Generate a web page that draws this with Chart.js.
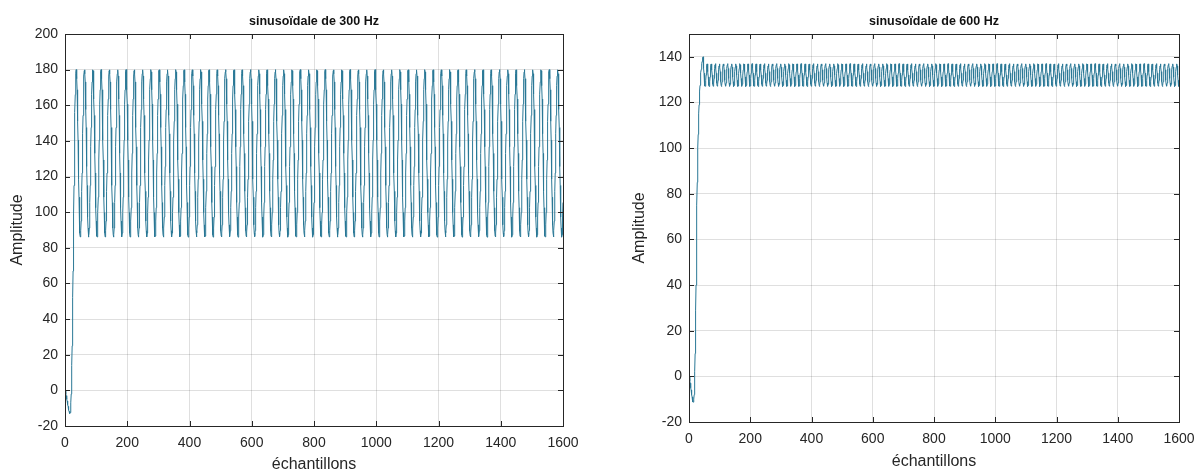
<!DOCTYPE html>
<html>
<head>
<meta charset="utf-8">
<script src="https://cdn.jsdelivr.net/npm/chart.js@4.4.1/dist/chart.umd.min.js"></script>
<style>
  body { margin: 0; background: #fff; }
  #gauche { position: absolute; left: 0; top: 0; }
  #droite { position: absolute; left: 600px; top: 0; }
</style>
</head>
<body>
<canvas id="gauche" width="600" height="474"></canvas>
<canvas id="droite" width="604" height="474"></canvas>
<script>
// Number of samples in each signal
const nbEchantillons = 1600;

// 300 Hz: first samples, before the output settles
const debut300 = [0, -1, -2, -3, -4, -5, -6, -7, -8, -9,
    -10, -11, -11.8, -12.4, -12.8, -13, -12.5, -10.5, -7, -2,
    5, 14, 25, 38, 52, 67, 83, 99, 115, 130,
    144, 156, 166, 173, 178];
// 300 Hz: settled part, 3 periods = 80 samples, repeated until the end
const cycle300 = [180.0, 178.7, 174.9, 168.7, 160.6, 151.0, 140.4, 129.3, 118.5, 108.4,
    99.8, 92.9, 88.3, 86.1, 86.6, 89.6, 95.0, 102.5, 111.7, 122.0,
    133.0, 144.0, 154.3, 163.5, 171.0, 176.4, 179.4, 179.9, 177.7, 173.1,
    166.2, 157.6, 147.5, 136.7, 125.6, 115.0, 105.4, 97.3, 91.1, 87.3,
    86.0, 87.3, 91.1, 97.3, 105.4, 115.0, 125.6, 136.7, 147.5, 157.6,
    166.2, 173.1, 177.7, 179.9, 179.4, 176.4, 171.0, 163.5, 154.3, 144.0,
    133.0, 122.0, 111.7, 102.5, 95.0, 89.6, 86.6, 86.1, 88.3, 92.9,
    99.8, 108.4, 118.5, 129.3, 140.4, 151.0, 160.6, 168.7, 174.9, 178.7];

// 600 Hz: first samples
const debut600 = [0, -1, -2, -3, -4, -5, -6, -7, -8, -9,
    -10, -10.7, -11.2, -11.3, -11, -10, -8, -4, 2, 10,
    19, 29, 40, 52, 64, 75, 85, 93, 100, 106,
    111, 115, 119, 122, 125, 127.5, 129.5, 131.5, 133, 134.5,
    136, 137, 138, 139, 139.7, 140, 139];
// 600 Hz: settled part, 3 periods = 40 samples
const cycle600 = [137.0, 136.5, 134.9, 132.8, 130.5, 128.5, 127.2, 127.1, 128.0, 129.7,
    132.0, 134.3, 136.0, 136.9, 136.8, 135.5, 133.5, 131.2, 129.1, 127.5,
    127.0, 127.5, 129.1, 131.2, 133.5, 135.5, 136.8, 136.9, 136.0, 134.3,
    132.0, 129.7, 128.0, 127.1, 127.2, 128.5, 130.5, 132.8, 134.9, 136.5];
const decalage600 = 2; // the settled 600 Hz part starts on the way down

// Tick labels
const ticksX = [0, 200, 400, 600, 800, 1000, 1200, 1400, 1600];
const ticksY300 = [-20, 0, 20, 40, 60, 80, 100, 120, 140, 160, 180, 200];
const ticksY600 = [-20, 0, 20, 40, 60, 80, 100, 120, 140];

const echantillons = Array.from({ length: nbEchantillons }, (_, i) => i + 1);

// Start samples followed by the repeated settled cycle
function construireSignal(debut, cycle, decalage) {
    const out = debut.slice();
    let k = decalage;
    while (out.length < nbEchantillons) {
        out.push(cycle[k % cycle.length]);
        k++;
    }
    return out;
}

const signal300 = construireSignal(debut300, cycle300, 0);
const signal600 = construireSignal(debut600, cycle600, decalage600);

const police = 'Liberation Sans, Arial, Helvetica, sans-serif';
const gris = '#262626';

// Box round the plot area with inward tick marks, like MATLAB
const cadreMatlab = {
    id: 'cadreMatlab',
    afterDatasetsDraw(chart) {
        const { ctx, chartArea: a, scales: { x, y } } = chart;
        ctx.save();
        ctx.strokeStyle = gris;
        ctx.lineWidth = 1;
        ctx.beginPath();
        x.ticks.forEach(t => {
            const px = Math.round(x.getPixelForValue(t.value)) + 0.5;
            ctx.moveTo(px, a.bottom); ctx.lineTo(px, a.bottom - 5);
            ctx.moveTo(px, a.top); ctx.lineTo(px, a.top + 5);
        });
        y.ticks.forEach(t => {
            const py = Math.round(y.getPixelForValue(t.value)) + 0.5;
            ctx.moveTo(a.left, py); ctx.lineTo(a.left + 5, py);
            ctx.moveTo(a.right, py); ctx.lineTo(a.right - 5, py);
        });
        ctx.stroke();
        ctx.strokeRect(a.left + 0.5, a.top + 0.5, a.right - a.left, a.bottom - a.top);
        ctx.restore();
    }
};

function creerGraphe(id, titre, signal, yMin, yMax, ticksY, cfg) {
    const ctx = document.getElementById(id).getContext('2d');
    return new Chart(ctx, {
        type: 'line',
        data: {
            labels: echantillons,
            datasets: [{
                data: signal,
                borderColor: '#2a7896',
                borderWidth: 1,
                pointRadius: 0,
                tension: 0,
                fill: false
            }]
        },
        options: {
            responsive: false,
            animation: false,
            events: [],
            layout: { padding: { left: cfg.padLeft, right: cfg.padRight, top: 0, bottom: 0 } },
            plugins: {
                legend: { display: false },
                tooltip: { enabled: false },
                title: {
                    display: true,
                    text: titre,
                    fullSize: false,
                    color: '#111',
                    font: { family: police, size: 12.5, weight: 'bold' },
                    padding: { top: 14, bottom: 5 }
                }
            },
            scales: {
                x: {
                    type: 'linear',
                    min: 0,
                    max: 1600,
                    afterBuildTicks: s => { s.ticks = ticksX.map(v => ({ value: v })); },
                    afterFit: s => { s.height = cfg.hauteurX; },
                    grid: { color: 'rgba(38,38,38,0.15)', drawTicks: false },
                    border: { display: false },
                    ticks: {
                        color: gris,
                        padding: 9,
                        maxRotation: 0,
                        font: { family: police, size: 14 },
                        callback: v => String(v)
                    },
                    title: {
                        display: true,
                        text: 'échantillons',
                        color: gris,
                        font: { family: police, size: 16 },
                        padding: { top: 0, bottom: cfg.padTitreX }
                    }
                },
                y: {
                    min: yMin,
                    max: yMax,
                    afterBuildTicks: s => { s.ticks = ticksY.map(v => ({ value: v })); },
                    afterFit: s => { s.width = cfg.largeurY; },
                    grid: { color: 'rgba(38,38,38,0.15)', drawTicks: false },
                    border: { display: false },
                    ticks: {
                        color: gris,
                        padding: 7,
                        font: { family: police, size: 14 },
                        callback: v => String(v)
                    },
                    title: {
                        display: true,
                        text: 'Amplitude',
                        color: gris,
                        font: { family: police, size: 16 },
                        padding: { top: 8, bottom: 0 }
                    }
                }
            }
        },
        plugins: [cadreMatlab]
    });
}

creerGraphe('gauche', 'sinusoïdale de 300 Hz', signal300, -20, 200, ticksY300,
    { padLeft: 0, padRight: 37, largeurY: 65, hauteurX: 48, padTitreX: 0 });
creerGraphe('droite', 'sinusoïdale de 600 Hz', signal600, -20, 150, ticksY600,
    { padLeft: 22, padRight: 25, largeurY: 67, hauteurX: 52, padTitreX: 3 });
</script>
</body>
</html>
